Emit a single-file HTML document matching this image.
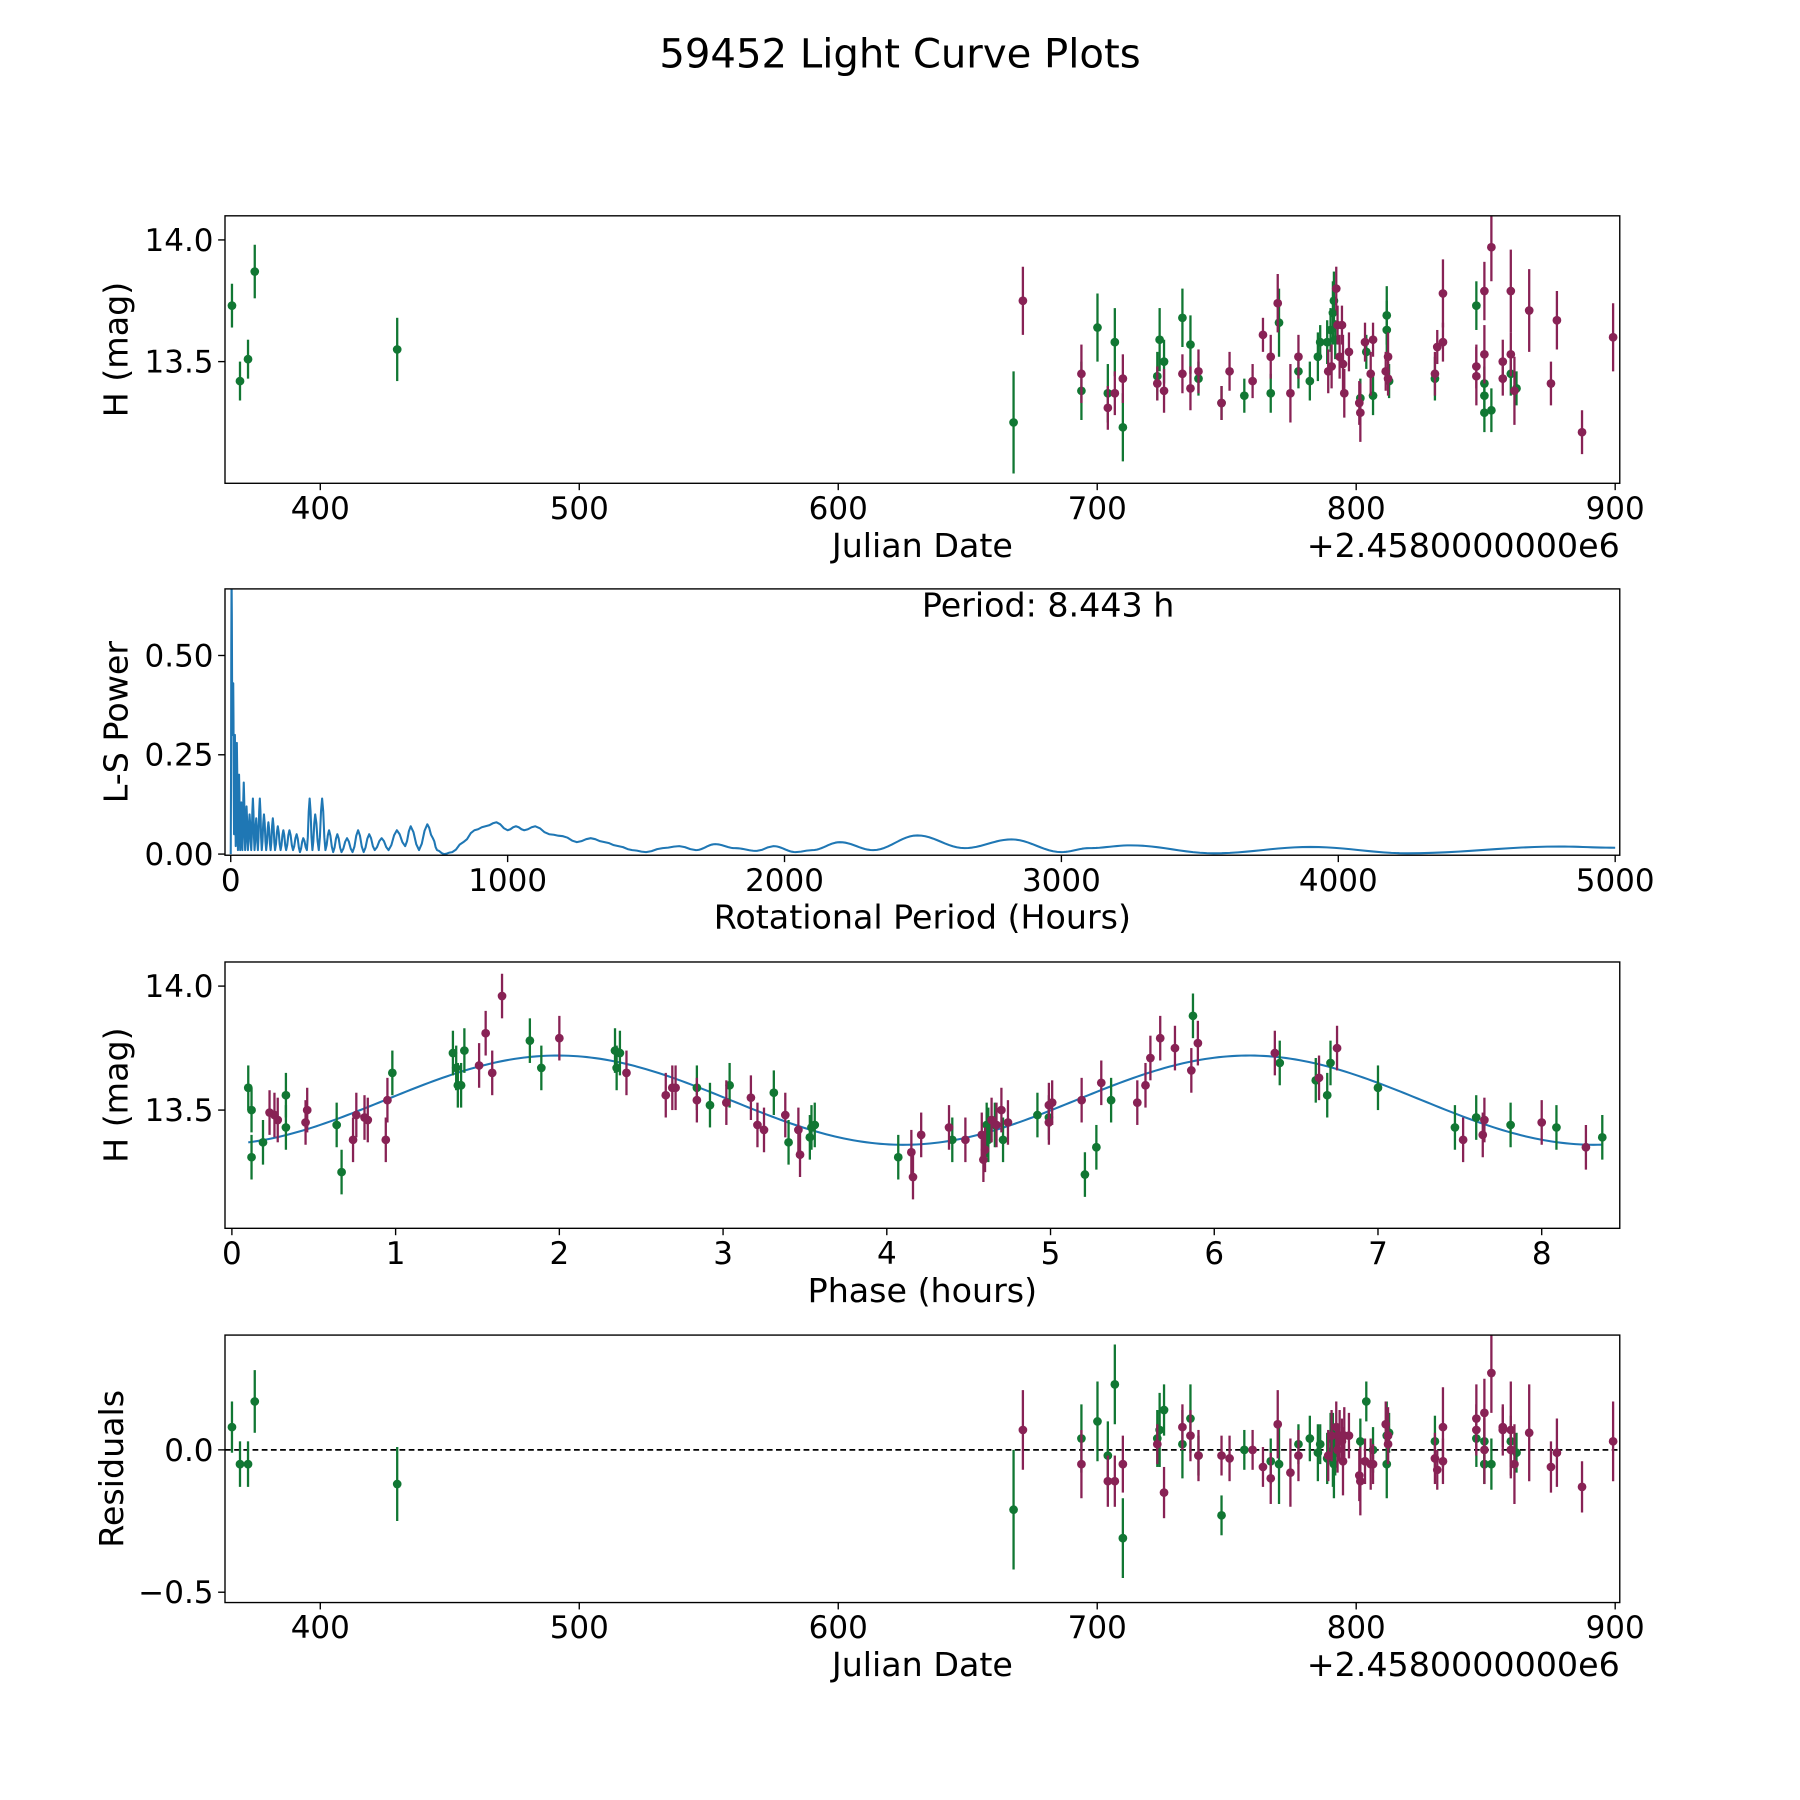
<!DOCTYPE html>
<html><head><meta charset="utf-8"><style>
html,body{margin:0;padding:0;background:#fff;}
svg{display:block;}
text{font-family:"DejaVu Sans","Liberation Sans",sans-serif;fill:#000;}
</style></head><body>
<svg id="fig" xmlns="http://www.w3.org/2000/svg" width="1800" height="1800" viewBox="0 0 1568 1568">
<rect width="1568" height="1568" fill="#fff"/>
<text x="784" y="59" font-size="35" text-anchor="middle">59452 Light Curve Plots</text>
</svg>
<script>
// ---- Panel 1 data: raw light curve (JD - 2458000, H mag, error) ----
const jdG=[365.9,369.0,372.1,374.7,429.7,667.7,693.9,700.1,704.1,706.8,709.9,723.2,724.1,725.8,732.9,736.0,739.1,748.0,756.8,767.0,770.2,777.7,782.1,785.2,786.1,788.8,790.1,791.0,791.4,791.9,801.6,803.9,806.5,811.8,811.8,812.7,830.4,846.4,849.5,849.5,849.5,852.2,859.7,861.9];
const magG=[13.73,13.42,13.51,13.87,13.55,13.25,13.38,13.64,13.37,13.58,13.23,13.44,13.59,13.50,13.68,13.57,13.43,13.33,13.36,13.37,13.66,13.46,13.42,13.52,13.58,13.58,13.63,13.70,13.75,13.59,13.35,13.54,13.36,13.69,13.63,13.42,13.43,13.73,13.41,13.36,13.29,13.30,13.45,13.39];
const errG=[.09,.08,.08,.11,.13,.21,.12,.14,.12,.14,.14,.10,.13,.09,.12,.12,.07,.07,.07,.08,.14,.07,.08,.10,.07,.09,.09,.13,.12,.08,.08,.07,.08,.12,.12,.07,.09,.10,.07,.07,.08,.09,.09,.07];
const jdM=[671.3,693.9,704.1,706.8,709.9,723.2,725.8,732.9,736.0,739.1,748.0,751.1,760.0,764.0,767.0,769.7,774.6,777.7,789.2,790.5,792.3,792.8,793.6,794.5,794.9,795.4,797.2,801.2,801.6,803.4,805.6,806.5,811.4,812.3,812.3,830.4,831.3,833.5,833.5,846.4,846.4,849.5,849.5,852.2,856.6,856.6,859.7,859.7,861.1,866.8,875.2,877.5,887.2,899.2];
const magM=[13.75,13.45,13.31,13.37,13.43,13.41,13.38,13.45,13.39,13.46,13.33,13.46,13.42,13.61,13.52,13.74,13.37,13.52,13.46,13.48,13.80,13.65,13.52,13.65,13.49,13.37,13.54,13.33,13.29,13.58,13.45,13.59,13.46,13.52,13.43,13.45,13.56,13.78,13.58,13.48,13.44,13.79,13.53,13.97,13.43,13.50,13.79,13.53,13.38,13.71,13.41,13.67,13.21,13.60];
const errM=[.14,.12,.09,.09,.10,.07,.09,.08,.09,.09,.07,.08,.07,.07,.09,.12,.12,.09,.09,.09,.09,.08,.09,.08,.12,.10,.08,.09,.12,.08,.09,.07,.08,.10,.07,.09,.07,.14,.08,.09,.12,.12,.12,.14,.07,.09,.17,.09,.14,.17,.09,.12,.09,.14];
// ---- Panel 4 residuals (same order as panel 1) ----
const resG=[.08,-.05,-.05,.17,-.12,-.21,.04,.10,-.02,.23,-.31,.04,.07,.14,.02,.11,-.02,-.23,0,-.04,-.05,.02,.04,-.01,.02,-.03,.04,0,-.05,-.01,.03,.17,0,.05,-.05,.06,.03,.04,-.05,-.05,.03,-.05,.03,-.01];
const resM=[.07,-.05,-.11,-.11,-.05,.02,-.15,.08,.05,-.02,-.02,-.03,0,-.06,-.10,.09,-.08,-.02,-.02,.05,.08,0,.05,.03,-.04,.05,.05,-.09,-.11,-.04,-.05,-.05,.09,.05,.02,-.03,-.07,.08,-.04,.07,.11,.13,0,.27,.08,.07,.07,0,-.05,.06,-.06,-.01,-.13,.03];
// ---- Panel 3 phased data ----
const phG=[.10,.12,.12,.19,.33,.33,.64,.67,.98,1.35,1.37,1.38,1.40,1.42,1.82,1.89,2.34,2.35,2.37,2.84,2.92,3.04,3.31,3.40,3.53,3.54,3.56,4.07,4.40,4.61,4.61,4.62,4.62,4.66,4.71,4.92,4.99,5.21,5.28,5.37,5.87,6.40,6.62,6.69,6.71,7.00,7.47,7.60,7.81,8.09,8.37];
const phMagG=[13.59,13.50,13.31,13.37,13.43,13.56,13.44,13.25,13.65,13.73,13.67,13.60,13.60,13.74,13.78,13.67,13.74,13.67,13.73,13.59,13.52,13.60,13.57,13.37,13.39,13.43,13.44,13.31,13.38,13.44,13.40,13.38,13.42,13.44,13.38,13.48,13.47,13.24,13.35,13.54,13.88,13.69,13.62,13.56,13.69,13.59,13.43,13.47,13.44,13.43,13.39];
const phM=[.23,.26,.28,.45,.46,.74,.76,.81,.83,.94,.95,1.51,1.55,1.59,1.65,2.00,2.41,2.65,2.69,2.71,2.84,3.02,3.17,3.21,3.25,3.38,3.46,3.47,4.15,4.16,4.21,4.38,4.48,4.58,4.59,4.60,4.64,4.67,4.70,4.74,4.99,5.01,4.99,5.19,5.31,5.53,5.58,5.61,5.67,5.76,5.86,5.90,6.37,6.64,6.75,7.52,7.65,7.64,8.00,8.27];
const phMagM=[13.49,13.48,13.46,13.45,13.50,13.38,13.48,13.47,13.46,13.38,13.54,13.68,13.81,13.65,13.96,13.79,13.65,13.56,13.59,13.59,13.54,13.53,13.55,13.44,13.42,13.48,13.42,13.32,13.33,13.23,13.40,13.43,13.38,13.40,13.30,13.34,13.46,13.44,13.50,13.45,13.45,13.53,13.52,13.54,13.61,13.53,13.60,13.71,13.79,13.75,13.66,13.77,13.73,13.63,13.75,13.38,13.46,13.40,13.45,13.35];
const PH_ERR=0.09;
const PERIOD=8.443, FIT_MEAN=13.54, FIT_AMP=0.18, FIT_PEAK=1.99;
// ---- Panel 2 periodogram (period hours, power) ----
const lsPeriod=[0,3,6,9,12,15,18,22,26,30,34,38,42,47,52,57,62,68,74,80,86,92,98,105,112,120,128,136,144,152,160,170,180,190,200,212,225,238,250,262,275,285,295,305,318,330,342,355,370,385,400,420,440,460,480,500,520,545,570,600,630,650,680,710,730,745,770,800,840,880,920,960,1000,1030,1060,1100,1150,1200,1250,1300,1350,1400,1450,1500,1560,1620,1680,1750,1820,1900,1960,2040,2100,2200,2320,2480,2650,2820,3000,3100,3250,3550,3900,4250,4800,5000];
const lsPower=[0,0.70,0.30,0.43,0.05,0.30,0.02,0.28,0.01,0.20,0.01,0.13,0.01,0.18,0.01,0.12,0.01,0.10,0.01,0.14,0.01,0.09,0.01,0.14,0.01,0.10,0.01,0.08,0.01,0.09,0.01,0.07,0.01,0.06,0.01,0.06,0.01,0.05,0.005,0.04,0.01,0.14,0.01,0.10,0.01,0.14,0.01,0.06,0.005,0.05,0.005,0.04,0.005,0.06,0.005,0.05,0.01,0.04,0.01,0.06,0.02,0.07,0.01,0.075,0.04,0.01,0,0.005,0.03,0.06,0.07,0.08,0.06,0.07,0.06,0.07,0.05,0.045,0.03,0.04,0.03,0.02,0.01,0.005,0.015,0.02,0.01,0.025,0.015,0.008,0.02,0.005,0.01,0.03,0.01,0.047,0.015,0.037,0.005,0.015,0.022,0.002,0.018,0.002,0.019,0.016];
const xTicksJD=[400,500,600,700,800,900];
const yTicksMag=[14.0,13.5];
const xTicksLS=[0,1000,2000,3000,4000,5000];
const yTicksLS=[0,0.25,0.5];
const xTicksPh=[0,1,2,3,4,5,6,7,8];
const yTicksRes=[0,-0.5];

const NS='http://www.w3.org/2000/svg';
const svg=document.getElementById('fig');
const GREEN='#117733', MAROON='#882255', BLUE='#1f77b4';
function mk(tag,attrs,parent){const e=document.createElementNS(NS,tag);for(const k in attrs)e.setAttribute(k,attrs[k]);(parent||svg).appendChild(e);return e;}
function lin(d0,d1,p0,p1){return v=>p0+(v-d0)*(p1-p0)/(d1-d0);}

function axes(name,L,T,R,B,xs,ys,xt,yt,xfmt,yfmt,xlabel,ylabel,ylabX,offset){
  const g=mk('g',{});
  
  
  const clip=mk('clipPath',{id:'clip-'+name},g);
  mk('rect',{x:L,y:T,width:R-L,height:B-T},clip);
  const plot=mk('g',{'clip-path':'url(#clip-'+name+')'},g);
  
  
  xt.forEach(v=>{const x=xs(v);
    const t=mk('line',{x1:x,x2:x,y1:B,y2:B+6,stroke:'#000','stroke-width':1.2},g);
    
    const l=mk('text',{x:x,y:B+31,'font-size':27,'text-anchor':'middle'},g);l.textContent=xfmt(v);
    });
  yt.forEach(v=>{const y=ys(v);
    const t=mk('line',{x1:L-6,x2:L,y1:y,y2:y,stroke:'#000','stroke-width':1.2},g);
    
    const l=mk('text',{x:L-10,y:y+9.5,'font-size':27,'text-anchor':'end'},g);l.textContent=yfmt(v);
    });
  const xl=mk('text',{x:(L+R)/2,y:B+64,'font-size':29,'text-anchor':'middle'},g);xl.textContent=xlabel;
  
  const yl=mk('text',{x:0,y:0,'font-size':29,'text-anchor':'middle',transform:'translate('+ylabX+','+((T+B)/2)+') rotate(-90)'},g);yl.textContent=ylabel;
  
  if(offset){const o=mk('text',{x:R,y:B+64,'font-size':29,'text-anchor':'end'},g);o.textContent=offset;
    }
  const fr=mk('rect',{x:L,y:T,width:R-L,height:B-T,fill:'none',stroke:'#000','stroke-width':1.2},g);
  
  return plot;
}
function errpts(plot,xs,ys,X,Y,E,color,name){
  X.forEach((v,i)=>{const x=xs(v),e=(typeof E==='number')?E:E[i];
    const l=mk('line',{x1:x,x2:x,y1:ys(Y[i]-e),y2:ys(Y[i]+e),stroke:color,'stroke-width':2},plot);
    
    const c=mk('circle',{cx:x,cy:ys(Y[i]),r:3.8,fill:color},plot);
    });
}
const f1=v=>v.toFixed(1).replace('-','\u2212'), f0=v=>String(v), f2=v=>v.toFixed(2);

// Panel 1
const xJD=lin(400,900,279,1407);
const y1=lin(13.5,14.0,315,209);
const p1=axes('light-curve-panel',196,188,1411,421,xJD,y1,xTicksJD,yTicksMag,f0,f1,'Julian Date','H (mag)',111,'+2.4580000000e6');
errpts(p1,xJD,y1,jdG,magG,errG,GREEN,'filter-green');
errpts(p1,xJD,y1,jdM,magM,errM,MAROON,'filter-maroon');

// Panel 2
const xLS=lin(0,5000,201,1407);
const yLS=lin(0,0.5,744,571);
const p2=axes('periodogram-panel',196,513,1411,745,xLS,yLS,xTicksLS,yTicksLS,f0,f2,'Rotational Period (Hours)','L-S Power',111,null);
let d='';
for(let i=0;i<lsPeriod.length;i++){
  if(i===0){d+='M'+xLS(lsPeriod[0])+','+yLS(lsPower[0]);continue;}
  const a=lsPeriod[i-1],b=lsPeriod[i],pa=lsPower[i-1],pb=lsPower[i];
  const n=(b-a)>60?12:3;
  for(let k=1;k<=n;k++){const t=k/n,m=(1-Math.cos(Math.PI*t))/2;
    d+=' L'+xLS(a+(b-a)*t).toFixed(2)+','+yLS(pa+(pb-pa)*m).toFixed(2);}
}
const ls=mk('path',{d:d,fill:'none',stroke:BLUE,'stroke-width':1.8,'stroke-linejoin':'round'},p2);

const pt=mk('text',{x:913,y:537,'font-size':29,'text-anchor':'middle'});
pt.textContent='Period: 8.443 h';


// Panel 3
const xPh=lin(0,8,202,1343);
const y3=lin(13.5,14.0,967,859);
const p3=axes('phase-panel',196,838,1411,1070,xPh,y3,xTicksPh,yTicksMag,f0,f1,'Phase (hours)','H (mag)',111,null);
let fd='';
for(let k=0;k<=300;k++){const t=0.1+(8.37-0.1)*k/300;
  const m=FIT_MEAN+FIT_AMP*Math.cos(2*Math.PI*(t-FIT_PEAK)/(PERIOD/2));
  fd+=(k?' L':'M')+xPh(t).toFixed(2)+','+y3(m).toFixed(2);}
const fit=mk('path',{d:fd,fill:'none',stroke:BLUE,'stroke-width':1.8},p3);

errpts(p3,xPh,y3,phG,phMagG,PH_ERR,GREEN,'phased-green');
errpts(p3,xPh,y3,phM,phMagM,PH_ERR,MAROON,'phased-maroon');

// Panel 4
const y4=lin(0,-0.5,1263,1387);
const p4=axes('residuals-panel',196,1163,1411,1396,xJD,y4,xTicksJD,yTicksRes,f0,f1,'Julian Date','Residuals',107,'+2.4580000000e6');
const zl=mk('line',{x1:196,x2:1411,y1:y4(0),y2:y4(0),stroke:'#000','stroke-width':1.5,'stroke-dasharray':'5,3'},p4);

errpts(p4,xJD,y4,jdG,resG,errG,GREEN,'residual-green');
errpts(p4,xJD,y4,jdM,resM,errM,MAROON,'residual-maroon');
</script>
</body></html>
